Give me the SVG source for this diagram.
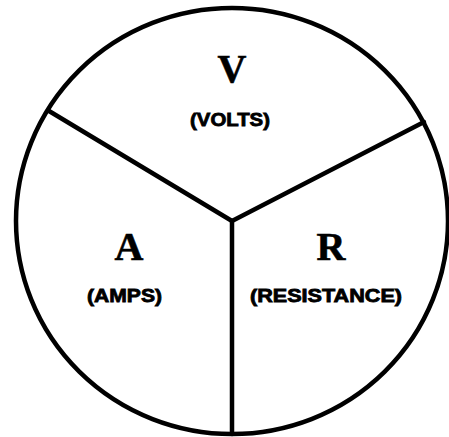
<svg xmlns="http://www.w3.org/2000/svg" width="449" height="437" viewBox="0 0 449 437">
<style>
.ln{fill:none;stroke:#000;stroke-width:4.5;stroke-linecap:round}
.big{font-family:"Liberation Serif","Times New Roman",serif;font-weight:bold;font-size:40px;text-anchor:middle;fill:#000;stroke:#000;stroke-width:0.6}
.lbl{font-family:"Liberation Sans",Arial,sans-serif;font-weight:bold;font-size:18px;text-anchor:middle;fill:#000;stroke:#000;stroke-width:0.8}
</style>
<rect width="449" height="437" fill="#fff"/>
<g id="circle">
<ellipse cx="232" cy="221" rx="216" ry="213" class="ln"/>
</g>
<g id="connectors">
<line x1="232" y1="221" x2="49" y2="111" class="ln"/>
<line x1="232" y1="221" x2="424" y2="122" class="ln"/>
<line x1="232" y1="221" x2="232" y2="434" class="ln"/>
</g>
<g id="volts">
<text x="232" y="82" class="big">V</text>
<text x="230" y="126" class="lbl" textLength="80" lengthAdjust="spacingAndGlyphs">(VOLTS)</text>
</g>
<g id="amps">
<text x="129" y="260" class="big">A</text>
<text x="124.5" y="302" class="lbl" textLength="75" lengthAdjust="spacingAndGlyphs">(AMPS)</text>
</g>
<g id="resistance">
<text x="331" y="260" class="big">R</text>
<text x="326" y="302" class="lbl" textLength="152" lengthAdjust="spacingAndGlyphs">(RESISTANCE)</text>
</g>
</svg>
